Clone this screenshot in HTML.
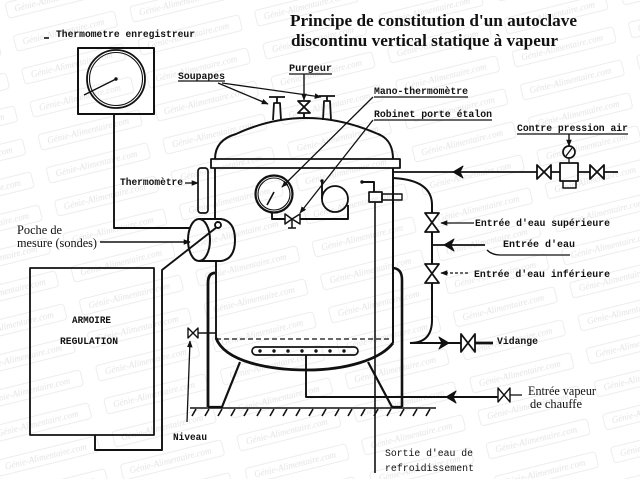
<!DOCTYPE html>
<html><head><meta charset="utf-8"><style>
html,body{margin:0;padding:0;background:#fff;}
svg{display:block;}
.m{font-family:"Liberation Mono",monospace;font-weight:bold;font-size:10px;fill:#111;}
.s{font-family:"Liberation Serif",serif;font-size:13px;fill:#111;}
.w{font-family:"Liberation Serif",serif;font-style:italic;font-size:9px;fill:#e4e4e4;}
</style></head><body>
<svg width="640" height="479" viewBox="0 0 640 479" xmlns="http://www.w3.org/2000/svg">
<defs>
<marker id="a" viewBox="0 0 10 10" refX="9" refY="5" markerWidth="7" markerHeight="7" orient="auto" markerUnits="userSpaceOnUse"><path d="M0,1 L10,5 L0,9 z" fill="#111"/></marker>
<pattern id="wm" width="120" height="34" patternUnits="userSpaceOnUse" patternTransform="rotate(-14)">
<rect x="4" y="4" width="104" height="16" rx="3" fill="none" stroke="#ededed" stroke-width="1"/>
<text class="w" x="12" y="15">Génie-Alimentaire.com</text>
</pattern>
</defs>
<rect width="640" height="479" fill="#fff"/>
<rect width="640" height="479" fill="url(#wm)"/>
<g fill="none" stroke="#111" stroke-width="1.9" stroke-linejoin="round">

<!-- recorder -->
<rect x="78" y="48" width="76" height="66" stroke-width="2"/>
<circle cx="116" cy="79" r="29" stroke-width="1.8"/>
<circle cx="116" cy="79" r="26.5" stroke-width="1.1"/>
<line x1="116" y1="79" x2="84" y2="95" stroke-width="1.4"/>
<path d="M114,114 V228 H190"/>
<line x1="44" y1="38" x2="49" y2="38" stroke-width="1.6"/>

<!-- armoire -->
<rect x="30" y="268" width="124" height="167" stroke-width="1.8"/>
<path d="M217,227 L162,270 V450 H95 V435"/>

<!-- poche -->
<ellipse cx="199" cy="240" rx="11" ry="21" stroke-width="2"/>
<path d="M199,219 L221,219 Q235,221 235,240 Q235,259 221,261 L199,261" stroke-width="2"/>
<circle cx="218" cy="225" r="3"/>
<line x1="100" y1="242" x2="190" y2="242" stroke-width="1.4" marker-end="url(#a)"/>

<!-- thermometer -->
<rect x="198" y="168" width="10" height="45" rx="3" stroke-width="1.7"/>
<line x1="185" y1="183" x2="198" y2="183" stroke-width="1.3" marker-end="url(#a)"/>

<!-- vessel -->
<path d="M215,159 C215,146 222,138 236,134 Q305,102 378,134 C389,138 393,148 393,159" stroke-width="2"/>
<rect x="211" y="159" width="189" height="9" stroke-width="1.8"/>
<line x1="215" y1="168" x2="215" y2="219"/>
<line x1="216" y1="261" x2="216" y2="339"/>
<line x1="393" y1="168" x2="393" y2="343" stroke-width="2"/>
<path d="M216,338 C225,362 270,370 307,370 C345,370 380,360 393,343" stroke-width="2.8"/>
<line x1="216" y1="339" x2="393" y2="339" stroke-dasharray="5,3" stroke-width="1.3"/>
<rect x="252" y="347" width="106" height="8" rx="4" stroke-width="1.7"/>
<path d="M306,355 V397 H498"/>
<path d="M510,395 H522" stroke-width="1.3"/>

<!-- legs -->
<path d="M215,273 Q208,273 208,283 V407" stroke-width="2.8"/>
<path d="M240,362 L222,407 H208" stroke-width="2.2"/>
<path d="M392,268 Q402,268 402,280 V407" stroke-width="2.6"/>
<path d="M368,362 L392,407 H402" stroke-width="2.2"/>

<!-- floor -->
<line x1="190" y1="408" x2="436" y2="408" stroke-width="1.6"/>

<!-- inner outlet pipe -->
<path d="M362,182 H374 V192"/>
<rect x="369" y="192" width="13" height="10" stroke-width="1.7"/>
<rect x="382" y="194" width="20" height="6" stroke-width="1.4"/>
<line x1="375" y1="202" x2="375" y2="473" stroke-width="1.6"/>

<!-- gauge -->
<circle cx="274" cy="194" r="18.5" stroke-width="2.2"/>
<circle cx="274" cy="194" r="16" stroke-width="1.1"/>
<line x1="274" y1="192" x2="267" y2="205" stroke-width="1.6"/>
<path d="M272,212 V219 H285"/>
<path d="M300,219 H348 V205"/>
<circle cx="335" cy="199" r="13" stroke-width="1.8"/>
<path d="M322,181 V199"/>
<path d="M292,219 V228 M288,228 H296" stroke-width="1.5"/>

<!-- soupapes -->
<path d="M273,120 L274,103 H280 L281,120" stroke-width="1.8"/>
<path d="M269,97 H285 M277,97 V103" stroke-width="1.8"/>
<path d="M323,120 L324,101 H330 L331,120" stroke-width="1.8"/>
<path d="M319,96 H335 M327,96 V101" stroke-width="1.8"/>
<line x1="218" y1="83" x2="268" y2="104" stroke-width="1.3" marker-end="url(#a)"/>
<line x1="222" y1="83" x2="321" y2="97" stroke-width="1.3" marker-end="url(#a)"/>
<!-- purgeur -->
<line x1="304" y1="74" x2="304" y2="100" stroke-width="1.4" marker-end="url(#a)"/>
<line x1="304" y1="112" x2="304" y2="119"/>

<!-- leaders -->
<path d="M374,97 H468" stroke-width="1.3"/>
<line x1="373" y1="97" x2="282" y2="187" stroke-width="1.3" marker-end="url(#a)"/>
<path d="M374,120 H492" stroke-width="1.3"/>
<line x1="373" y1="120" x2="300" y2="213" stroke-width="1.3" marker-end="url(#a)"/>
<path d="M178,81 H225" stroke-width="1.3"/>
<path d="M289,74 H332" stroke-width="1.3"/>
<path d="M517,134 H628" stroke-width="1.3"/>

<!-- water inlet pipe -->
<path d="M393,178 Q432,180 432,205 V213 M432,232 V264 M432,283 V320 Q432,343 410,343" stroke-width="2"/>
<path d="M485,245 H432" stroke-width="1.8"/>
<line x1="474" y1="223" x2="441" y2="223" stroke-width="1.3" marker-end="url(#a)"/>
<line x1="468" y1="273" x2="441" y2="273" stroke-width="1.3" stroke-dasharray="3,2" marker-end="url(#a)"/>
<path d="M487,250 Q492,255 500,255 H570" stroke-width="1.3"/>

<!-- air line -->
<path d="M393,172 H537" stroke-width="1.8"/>
<path d="M551,172 H560 M578,172 H590 M604,172 H618" stroke-width="1.7"/>
<rect x="560" y="163" width="18" height="18" stroke-width="1.8"/>
<path d="M563,181 V188 H576 V181" stroke-width="1.5"/>
<circle cx="569" cy="152" r="6" stroke-width="1.7"/>
<path d="M569,158 V163 M566,156 L572,148" stroke-width="1.3"/>
<line x1="569" y1="134" x2="569" y2="146" stroke-width="1.4" marker-end="url(#a)"/>

<!-- vidange -->
<path d="M410,343 H461" stroke-width="2"/>
<path d="M475,343 H493" stroke-width="2.8"/>

<!-- niveau -->
<path d="M198,333 H216" stroke-width="1.5"/>
<line x1="187" y1="422" x2="190" y2="341" stroke-width="1.3" marker-end="url(#a)"/>
</g>

<!-- flow arrowheads -->
<g fill="#111" stroke="#111" stroke-width="1" stroke-linejoin="round">
<path d="M446,397 L456,391 L453,397 L456,403 Z"/>
<path d="M453,172 L463,166 L460,172 L463,178 Z"/>
<path d="M444,245 L454,239 L451,245 L454,251 Z"/>
<path d="M449,343 L439,337 L442,343 L439,349 Z"/>
</g>

<!-- filled valves -->
<g fill="#fff" stroke="#111" stroke-width="1.8" stroke-linejoin="round">
<path d="M298,101 L310,101 L304,107 Z M298,113 L310,113 L304,107 Z"/>
<path d="M425,213 L439,213 L432,222.5 Z M425,232 L439,232 L432,222.5 Z"/>
<path d="M425,264 L439,264 L432,273.5 Z M425,283 L439,283 L432,273.5 Z"/>
<path d="M537,165 L537,179 L544,172 Z M551,165 L551,179 L544,172 Z"/>
<path d="M590,165 L590,179 L597,172 Z M604,165 L604,179 L597,172 Z"/>
<path d="M461,334 L461,352 L468,343 Z M475,334 L475,352 L468,343 Z"/>
<path d="M498,388 L498,402 L504,395 Z M510,388 L510,402 L504,395 Z" stroke-width="1.4"/>
<path d="M285,214 L285,224 L292,219 Z M300,214 L300,224 L292,219 Z" stroke-width="1.5"/>
<path d="M188,328 L188,338 L193,333 Z M198,328 L198,338 L193,333 Z" stroke-width="1.4"/>
</g>

<g fill="#111">
<circle cx="116" cy="79" r="1.7"/>
<circle cx="322" cy="181" r="1.7"/>
<circle cx="362" cy="182" r="1.7"/>
<circle cx="260" cy="351" r="1.7"/><circle cx="274" cy="351" r="1.7"/><circle cx="288" cy="351" r="1.7"/>
<circle cx="302" cy="351" r="1.7"/><circle cx="316" cy="351" r="1.7"/><circle cx="330" cy="351" r="1.7"/>
<circle cx="344" cy="351" r="1.7"/>
</g>

<!-- floor hatching -->
<g stroke="#111" stroke-width="1.6">
<line x1="196" y1="409" x2="192" y2="416"/><line x1="209" y1="409" x2="205" y2="416"/>
<line x1="222" y1="409" x2="218" y2="416"/><line x1="235" y1="409" x2="231" y2="416"/>
<line x1="248" y1="409" x2="244" y2="416"/><line x1="261" y1="409" x2="257" y2="416"/>
<line x1="274" y1="409" x2="270" y2="416"/><line x1="287" y1="409" x2="283" y2="416"/>
<line x1="300" y1="409" x2="296" y2="416"/><line x1="313" y1="409" x2="309" y2="416"/>
<line x1="326" y1="409" x2="322" y2="416"/><line x1="339" y1="409" x2="335" y2="416"/>
<line x1="352" y1="409" x2="348" y2="416"/><line x1="365" y1="409" x2="361" y2="416"/>
<line x1="378" y1="409" x2="374" y2="416"/><line x1="391" y1="409" x2="387" y2="416"/>
<line x1="404" y1="409" x2="400" y2="416"/><line x1="417" y1="409" x2="413" y2="416"/>
<line x1="430" y1="409" x2="426" y2="416"/>
</g>

<!-- text -->
<text x="290" y="26" font-family="Liberation Serif, serif" font-weight="bold" font-size="17" fill="#111" textLength="287" lengthAdjust="spacingAndGlyphs">Principe de constitution d'un autoclave</text>
<text x="291" y="46" font-family="Liberation Serif, serif" font-weight="bold" font-size="17" fill="#111" textLength="267" lengthAdjust="spacingAndGlyphs">discontinu vertical statique à vapeur</text>

<text class="m" x="56" y="37" textLength="139" lengthAdjust="spacingAndGlyphs">Thermometre enregistreur</text>
<text class="m" x="178" y="79" textLength="47" lengthAdjust="spacingAndGlyphs">Soupapes</text>
<text class="m" x="289" y="71" textLength="43" lengthAdjust="spacingAndGlyphs">Purgeur</text>
<text class="m" x="374" y="94" textLength="94" lengthAdjust="spacingAndGlyphs">Mano-thermomètre</text>
<text class="m" x="374" y="117" textLength="118" lengthAdjust="spacingAndGlyphs">Robinet porte étalon</text>
<text class="m" x="517" y="131" textLength="111" lengthAdjust="spacingAndGlyphs">Contre pression air</text>
<text class="m" x="120" y="185" textLength="63" lengthAdjust="spacingAndGlyphs">Thermomètre</text>
<text class="m" x="475" y="226" textLength="135" lengthAdjust="spacingAndGlyphs">Entrée d'eau supérieure</text>
<text class="m" x="503" y="247" textLength="72" lengthAdjust="spacingAndGlyphs">Entrée d'eau</text>
<text class="m" x="474" y="277" textLength="136" lengthAdjust="spacingAndGlyphs">Entrée d'eau inférieure</text>
<text class="m" x="497" y="344" textLength="41" lengthAdjust="spacingAndGlyphs">Vidange</text>
<text class="m" x="72" y="323" textLength="39" lengthAdjust="spacingAndGlyphs">ARMOIRE</text>
<text class="m" x="60" y="344" textLength="58" lengthAdjust="spacingAndGlyphs">REGULATION</text>
<text class="m" x="173" y="440" textLength="34" lengthAdjust="spacingAndGlyphs">Niveau</text>
<text class="m" x="385" y="456" textLength="88" lengthAdjust="spacingAndGlyphs" style="font-weight:normal">Sortie d'eau de</text>
<text class="m" x="385" y="471" textLength="89" lengthAdjust="spacingAndGlyphs" style="font-weight:normal">refroidissement</text>

<text class="s" x="17" y="234" textLength="45" lengthAdjust="spacingAndGlyphs">Poche de</text>
<text class="s" x="17" y="247" textLength="80" lengthAdjust="spacingAndGlyphs">mesure (sondes)</text>
<text class="s" x="528" y="395" textLength="68" lengthAdjust="spacingAndGlyphs">Entrée vapeur</text>
<text class="s" x="530" y="408" textLength="52" lengthAdjust="spacingAndGlyphs">de chauffe</text>
</svg>
</body></html>
